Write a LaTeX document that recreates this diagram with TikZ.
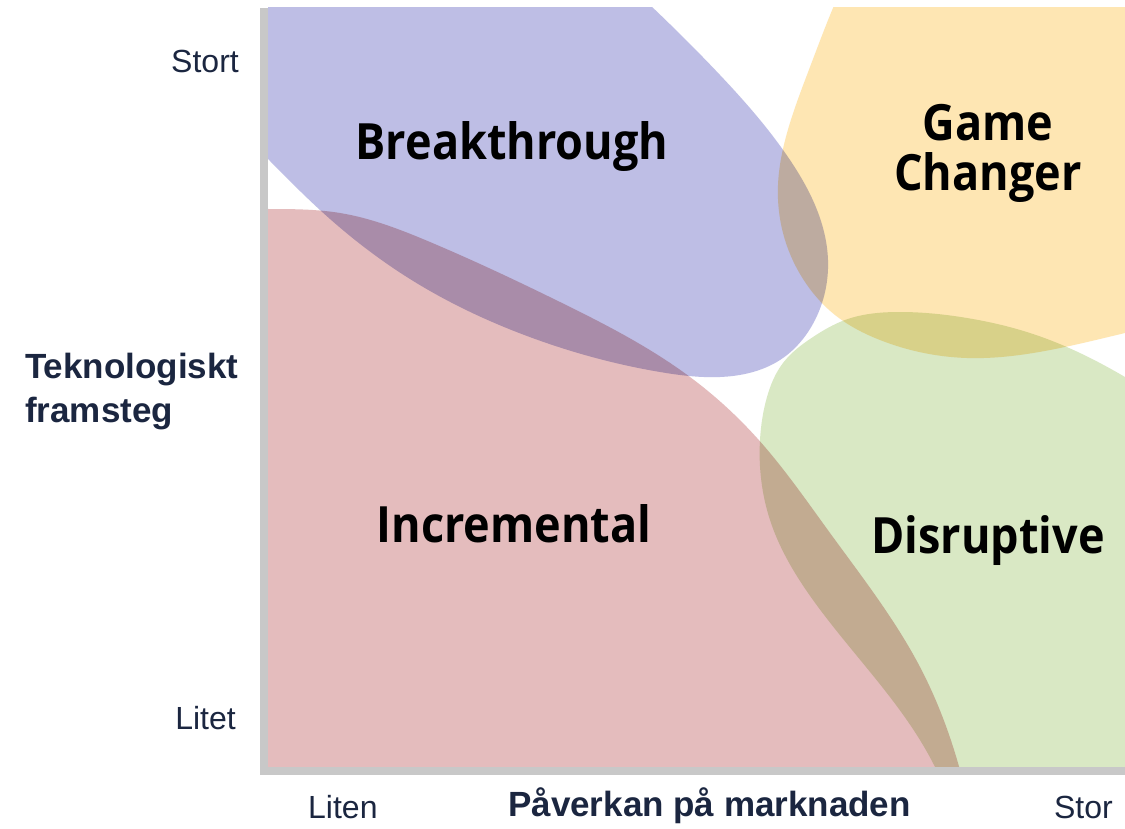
\documentclass[tikz,border=0pt]{standalone}
\usepackage{fontspec}
\setmainfont{Liberation Sans}
\newfontfamily\quadfont{Open Sans}[FakeStretch=0.9]
\usetikzlibrary{hobby}

\definecolor{axisgray}{RGB}{200,200,200}
\definecolor{labelnavy}{RGB}{27,38,64}
\definecolor{brkblue}{RGB}{190,190,229}
\definecolor{incpink}{RGB}{228,188,189}
\definecolor{gameorange}{RGB}{254,230,179}
\definecolor{disgreen}{RGB}{217,232,196}

\tikzset{
  quadlabel/.style={font=\quadfont\bfseries\fontsize{50}{54}\selectfont, text=black, inner sep=0pt, anchor=base},
  axislabel/.style={font=\fontsize{32}{38}\selectfont, text=labelnavy, inner sep=0pt},
  axistitle/.style={font=\bfseries\fontsize{35}{44}\selectfont, text=labelnavy, inner sep=0pt},
  axisbar/.style={fill=axisgray, draw=none}
}

\begin{document}
\begin{tikzpicture}[x=1pt,y=-1pt]
\useasboundingbox (0,0) rectangle (1125,829);
\fill[white] (0,0) rectangle (1125,829);

% the four overlapping regions, multiplied where they overlap
\begin{scope}
  \clip (268,8) rectangle (1125,767);
  \begin{scope}[blend mode=multiply]
    % Incremental
    \fill[incpink] (200,209) to[curve through={(268,209) (340,213) (430,242)
      (560,302) (690,377) (757,438) (830,533) (920,667) (958,763)}]
      (975,840) -- (200,850) -- cycle;
    % Breakthrough
    \fill[brkblue] (150,40) to[curve through={(270,161) (320,210) (410,279)
      (527,336) (660,372) (720,377) (780,360) (815,320) (828,260) (815,205)
      (790,160) (720,75) (650,5)}] (590,-50) -- (150,-50) -- cycle;
    % Game Changer
    \fill[gameorange] (860,-50) to[curve through={(833,8) (810,67) (787,133)
      (778,185) (785,240) (805,282) (835,315) (880,340) (967,358) (1050,350)
      (1125,333)}] (1190,318) -- (1190,-50) -- cycle;
    % Disruptive
    \fill[disgreen] (1190,420) to[curve through={(1125,377) (1033,334)
      (967,318) (900,312) (845,320) (813,337) (783,363) (767,397) (760,440)
      (770,520) (813,600) (935,767)}] (960,840)
      -- (1190,850) -- cycle;
  \end{scope}
\end{scope}

% axes
\fill[axisbar] (260,8) rectangle (268,775);
\fill[axisbar] (260,767) rectangle (1125,775);

% region labels
\node[quadlabel] (brk) at (512,160) {Breakthrough};
\node[quadlabel] (game) at (988,141) {Game};
\node[quadlabel] (changer) at (988,191) {Changer};
\node[quadlabel] (inc) at (514,542) {Incremental};
\node[quadlabel] (dis) at (988,553) {Disruptive};

% axis labels
\node[axislabel, anchor=base east] (stort) at (239,73) {Stort};
\node[axislabel, anchor=base east] (litet) at (236,729) {Litet};
\node[axistitle, anchor=base west] (tek) at (25,378) {Teknologiskt};
\node[axistitle, anchor=base west] (fram) at (25,422) {framsteg};
\node[axislabel, anchor=base west] (liten) at (308,818) {Liten};
\node[axistitle, anchor=base west] (pav) at (508,816) {Påverkan på marknaden};
\node[axislabel, anchor=base east] (stor) at (1113,818) {Stor};
\end{tikzpicture}
\end{document}
